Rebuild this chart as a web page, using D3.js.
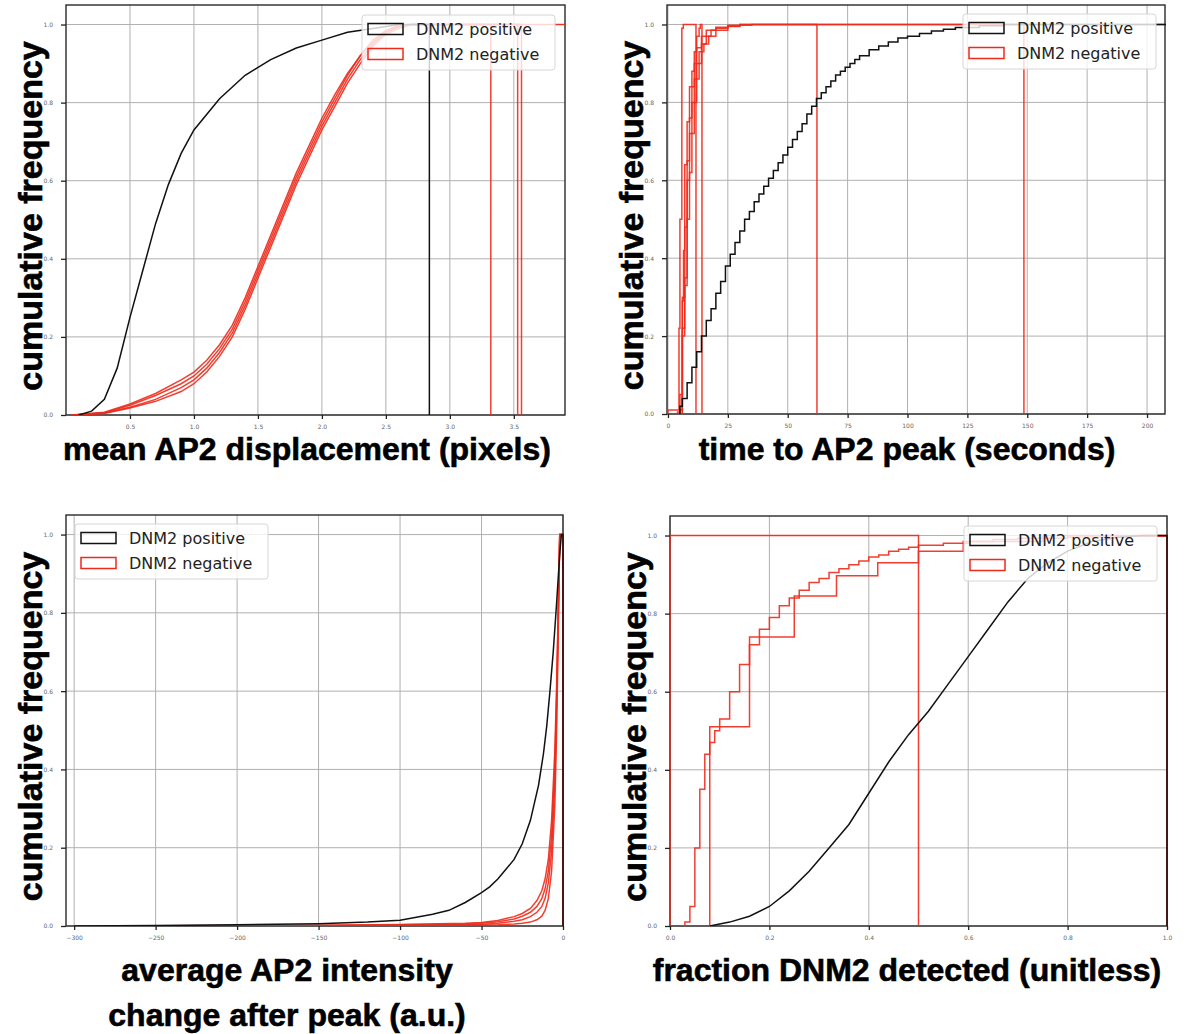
<!DOCTYPE html>
<html>
<head>
<meta charset="utf-8">
<script src="https://cdn.jsdelivr.net/npm/d3@7"></script>
<style>
  body { margin: 0; background: #fff; }
  svg { display: block; }
</style>
</head>
<body>
<svg id="chart" width="1193" height="1034"></svg>
<script>
// ---- panel 1: mean AP2 displacement (pixels) ----
const dispTicks = [0.5, 1.0, 1.5, 2.0, 2.5, 3.0, 3.5];
const dispPosX = [0.10, 0.20, 0.30, 0.40, 0.50, 0.60, 0.70, 0.80, 0.90, 1.00, 1.20, 1.40, 1.60, 1.80, 2.00, 2.20, 2.40, 2.60];
const dispPosY = [0, 0.01, 0.04, 0.12, 0.25, 0.37, 0.49, 0.59, 0.67, 0.73, 0.81, 0.87, 0.91, 0.94, 0.96, 0.98, 0.99, 1.0];
const dispPosEnd = 2.84;
const dispNegX = [0.05, 0.3, 0.5, 0.7, 0.9, 1.0, 1.1, 1.2, 1.3, 1.4, 1.5, 1.6, 1.7, 1.8, 1.9, 2.0, 2.1, 2.2, 2.3, 2.4, 2.5, 2.6, 2.7];
const dispNegA = [0, 0.005, 0.02, 0.04, 0.07, 0.09, 0.12, 0.16, 0.21, 0.28, 0.36, 0.44, 0.52, 0.60, 0.67, 0.74, 0.80, 0.86, 0.91, 0.95, 0.98, 0.995, 1.0];
const dispNegB = [0, 0.006, 0.025, 0.05, 0.08, 0.10, 0.13, 0.17, 0.22, 0.29, 0.37, 0.45, 0.53, 0.61, 0.68, 0.75, 0.81, 0.87, 0.92, 0.955, 0.98, 0.995, 1.0];
const dispNegC = [0, 0.004, 0.018, 0.035, 0.06, 0.08, 0.11, 0.15, 0.20, 0.27, 0.35, 0.43, 0.51, 0.59, 0.66, 0.73, 0.79, 0.85, 0.90, 0.945, 0.975, 0.99, 1.0];
const dispNegD = [0, 0.007, 0.028, 0.055, 0.09, 0.11, 0.14, 0.18, 0.23, 0.30, 0.38, 0.46, 0.54, 0.62, 0.69, 0.76, 0.82, 0.875, 0.92, 0.96, 0.985, 0.998, 1.0];
const dispNegEnds = [3.32, 3.53, 3.56, 3.95];

// ---- panel 2: time to AP2 peak (seconds) ----
const timeTicks = [0, 25, 50, 75, 100, 125, 150, 175, 200];
const timePosX = [5, 6, 8, 10, 12, 14, 16, 18, 20, 22, 24, 26, 28, 30, 32, 34, 36, 38, 40, 42, 44, 46, 48, 50, 52, 54, 56, 58, 60, 62, 64, 66, 68, 70, 72, 74, 76, 78, 80, 84, 88, 92, 96, 100, 105, 110, 115, 120, 130, 140];
const timePosY = [0.02, 0.04, 0.08, 0.12, 0.16, 0.20, 0.24, 0.27, 0.31, 0.34, 0.38, 0.41, 0.44, 0.47, 0.50, 0.52, 0.545, 0.565, 0.585, 0.605, 0.625, 0.645, 0.665, 0.685, 0.705, 0.725, 0.745, 0.77, 0.79, 0.81, 0.825, 0.84, 0.855, 0.87, 0.88, 0.89, 0.90, 0.91, 0.92, 0.935, 0.945, 0.955, 0.965, 0.97, 0.977, 0.983, 0.988, 0.992, 0.997, 1.0];
const timePosEnd = 215;
const timeNegAX = [0, 4.6, 5, 5.8, 6.4];
const timeNegAY = [0.01, 0.22, 0.5, 0.99, 1.0];
const timeNegBX = [5, 6, 6.5, 7, 8, 9, 10, 11, 12, 13, 13.5];
const timeNegBY = [0.01, 0.29, 0.42, 0.64, 0.75, 0.84, 0.88, 0.93, 0.97, 0.99, 1.0];
const timeNegCX = [5, 6, 7, 8, 9, 10, 11, 12, 13, 14, 16, 18, 20, 25, 30];
const timeNegCY = [0, 0.22, 0.35, 0.6, 0.72, 0.8, 0.86, 0.9, 0.93, 0.95, 0.97, 0.985, 0.99, 0.996, 1.0];
const timeNegDX = [5, 6, 7, 8, 9, 10, 11, 12, 13, 14, 15, 17, 20, 25, 30];
const timeNegDY = [0, 0.2, 0.33, 0.5, 0.62, 0.72, 0.8, 0.86, 0.9, 0.93, 0.95, 0.97, 0.985, 0.995, 1.0];
const timeNegEX = [4, 5, 6, 7, 8, 9, 10, 11, 12, 14, 16, 20, 25, 35];
const timeNegEY = [0.005, 0.05, 0.3, 0.48, 0.65, 0.76, 0.84, 0.9, 0.94, 0.97, 0.985, 0.993, 0.998, 1.0];
const timeNegEnds = [11.7, 14.2, 62.2, 148.6, 215];

// ---- panel 3: average AP2 intensity change after peak (a.u.) ----
const intTicks = [-300, -250, -200, -150, -100, -50, 0];
const intPosX = [-300, -250, -200, -150, -120, -100, -80, -70, -60, -50, -45, -40, -35, -30, -25, -20, -15, -12, -10, -8, -6, -4, -2, -1];
const intPosY = [0, 0.001, 0.003, 0.006, 0.01, 0.015, 0.03, 0.04, 0.06, 0.085, 0.10, 0.12, 0.145, 0.17, 0.21, 0.27, 0.36, 0.44, 0.51, 0.60, 0.70, 0.82, 0.95, 1.0];
const intPosEnd = 0;
const intNegX = [-300, -150, -100, -60, -50, -40, -30, -25, -20, -16, -13, -11, -9, -7, -5, -4, -3, -2];
const intNegA = [0, 0.002, 0.004, 0.007, 0.009, 0.014, 0.024, 0.032, 0.045, 0.065, 0.09, 0.12, 0.17, 0.27, 0.45, 0.60, 0.80, 1.0];
const intNegB = [0, 0.001, 0.003, 0.005, 0.007, 0.011, 0.018, 0.025, 0.035, 0.05, 0.07, 0.095, 0.14, 0.23, 0.41, 0.57, 0.78, 1.0];
const intNegC = [0, 0, 0.001, 0.003, 0.004, 0.007, 0.012, 0.016, 0.024, 0.035, 0.05, 0.07, 0.11, 0.19, 0.37, 0.53, 0.76, 1.0];
const intNegD = [0, 0, 0, 0.001, 0.002, 0.003, 0.005, 0.007, 0.01, 0.016, 0.025, 0.04, 0.07, 0.14, 0.31, 0.48, 0.72, 1.0];
const intNegEnds = [0, 0, 0, 0];

// ---- panel 4: fraction DNM2 detected (unitless) ----
const fracTicks = [0.0, 0.2, 0.4, 0.6, 0.8, 1.0];
const fracPosX = [0.08, 0.12, 0.16, 0.20, 0.24, 0.28, 0.32, 0.36, 0.40, 0.44, 0.48, 0.52, 0.56, 0.60, 0.64, 0.68, 0.72, 0.76, 0.80, 0.85, 0.90, 0.95];
const fracPosY = [0, 0.01, 0.025, 0.05, 0.09, 0.14, 0.20, 0.26, 0.34, 0.42, 0.49, 0.55, 0.62, 0.69, 0.76, 0.83, 0.89, 0.93, 0.96, 0.985, 0.995, 1.0];
const fracPosEnd = 1.0;
const fracNegAX = [0];
const fracNegAY = [1.0];
const fracNegBX = [0.08, 0.16, 0.25, 0.335, 0.418, 0.5, 0.59, 0.75];
const fracNegBY = [0.51, 0.74, 0.845, 0.897, 0.93, 0.96, 0.985, 1.0];
const fracNegCX = [0.02, 0.03, 0.04, 0.05, 0.06, 0.07, 0.08, 0.09, 0.10, 0.12, 0.14, 0.16, 0.18, 0.20, 0.22, 0.24, 0.26, 0.28, 0.30, 0.32, 0.34, 0.36, 0.38, 0.40, 0.42, 0.44, 0.46, 0.48, 0.50, 0.55, 0.60, 0.65, 0.70, 0.80, 0.90];
const fracNegCY = [0, 0.01, 0.05, 0.2, 0.35, 0.44, 0.47, 0.5, 0.53, 0.6, 0.67, 0.72, 0.76, 0.79, 0.82, 0.84, 0.86, 0.88, 0.89, 0.905, 0.915, 0.925, 0.935, 0.945, 0.95, 0.96, 0.965, 0.97, 0.975, 0.98, 0.985, 0.99, 0.993, 0.996, 0.998];
const fracNegEnds = [0.5, 1.0, 1.0];

const yTicks = [0.0, 0.2, 0.4, 0.6, 0.8, 1.0];
const legendLabels = ['DNM2 positive', 'DNM2 negative'];
const posColor = '#111';
const negColor = '#ee2a1b';

const zip = (xs, ys) => xs.map((x, i) => [x, ys[i]]);

const panels = [
  {
    box: { left: 66, right: 565, top: 5, bottom: 415 },
    xDomain: [0, 3.9], xTicks: dispTicks, fmt: d3.format('.1f'),
    curve: d3.curveLinear,
    pos: { pts: zip(dispPosX, dispPosY), end: dispPosEnd },
    neg: [dispNegA, dispNegB, dispNegC, dispNegD].map((ys, i) => ({ pts: zip(dispNegX, ys), end: dispNegEnds[i] })),
    xlabel: ['mean AP2 displacement (pixels)'], labelX: 307, labelY: 460,
    legend: { x: 362, y: 15 }
  },
  {
    box: { left: 667, right: 1165, top: 5, bottom: 414 },
    xDomain: [-0.4, 207.5], xTicks: timeTicks, fmt: d3.format('d'),
    curve: d3.curveStepAfter,
    pos: { pts: zip(timePosX, timePosY), end: timePosEnd },
    neg: [
      zip(timeNegAX, timeNegAY), zip(timeNegBX, timeNegBY), zip(timeNegCX, timeNegCY),
      zip(timeNegDX, timeNegDY), zip(timeNegEX, timeNegEY)
    ].map((pts, i) => ({ pts, end: timeNegEnds[i] })),
    xlabel: ['time to AP2 peak (seconds)'], labelX: 907, labelY: 460,
    legend: { x: 963, y: 14 }
  },
  {
    box: { left: 66, right: 563, top: 515, bottom: 926 },
    xDomain: [-305, 0], xTicks: intTicks, fmt: d3.format('d'),
    curve: d3.curveLinear,
    pos: { pts: zip(intPosX, intPosY), end: intPosEnd },
    neg: [intNegA, intNegB, intNegC, intNegD].map((ys, i) => ({ pts: zip(intNegX, ys), end: intNegEnds[i] })),
    xlabel: ['average AP2 intensity', 'change after peak (a.u.)'], labelX: 287, labelY: 981,
    legend: { x: 75, y: 524 }
  },
  {
    box: { left: 670, right: 1167, top: 516, bottom: 926 },
    xDomain: [0, 1], xTicks: fracTicks, fmt: d3.format('.1f'),
    curve: d3.curveStepAfter, posCurve: d3.curveLinear,
    pos: { pts: zip(fracPosX, fracPosY), end: fracPosEnd },
    neg: [
      zip(fracNegAX, fracNegAY), zip(fracNegBX, fracNegBY), zip(fracNegCX, fracNegCY)
    ].map((pts, i) => ({ pts, end: fracNegEnds[i] })),
    xlabel: ['fraction DNM2 detected (unitless)'], labelX: 907, labelY: 981,
    legend: { x: 964, y: 526 }
  }
];

const svg = d3.select('#chart');

panels.forEach((p, pi) => {
  const b = p.box;
  const x = d3.scaleLinear().domain(p.xDomain).range([b.left, b.right]);
  const y = d3.scaleLinear().domain([0, 1.05]).range([b.bottom, b.top]);
  const g = svg.append('g');

  // grid
  g.append('g').selectAll('line').data(p.xTicks).join('line')
    .attr('x1', d => x(d)).attr('x2', d => x(d))
    .attr('y1', b.top).attr('y2', b.bottom)
    .attr('stroke', '#b0b0b0').attr('stroke-width', 1);
  g.append('g').selectAll('line').data(yTicks).join('line')
    .attr('x1', b.left).attr('x2', b.right)
    .attr('y1', d => y(d)).attr('y2', d => y(d))
    .attr('stroke', '#b0b0b0').attr('stroke-width', 1);

  // spines
  g.append('rect').attr('x', b.left).attr('y', b.top)
    .attr('width', b.right - b.left).attr('height', b.bottom - b.top)
    .attr('fill', 'none').attr('stroke', '#2a2a2a').attr('stroke-width', 1.4);

  // curves, clipped to the axes box (1px slack so edge lines stay visible)
  const clipId = 'clip' + pi;
  svg.append('clipPath').attr('id', clipId).append('rect')
    .attr('x', b.left - 1).attr('y', b.top)
    .attr('width', b.right - b.left + 2).attr('height', b.bottom - b.top);
  const plot = g.append('g').attr('clip-path', `url(#${clipId})`);

  const stepPath = (s, curve) => {
    const pts = [[s.pts[0][0], 0], ...s.pts, [s.end, s.pts[s.pts.length - 1][1]], [s.end, 0]];
    return d3.line().x(d => x(d[0])).y(d => y(d[1])).curve(curve)(pts);
  };

  p.neg.forEach(s => {
    plot.append('path').attr('d', stepPath(s, p.curve))
      .attr('fill', 'none').attr('stroke', negColor).attr('stroke-width', 1.5)
      .attr('stroke-opacity', 0.9);
  });
  plot.append('path').attr('d', stepPath(p.pos, p.posCurve || p.curve))
    .attr('fill', 'none').attr('stroke', posColor).attr('stroke-width', 1.5);

  // axes
  const xAxis = g.append('g').attr('transform', `translate(0,${b.bottom})`)
    .call(d3.axisBottom(x).tickValues(p.xTicks).tickFormat(p.fmt).tickSize(4).tickPadding(6));
  const yAxis = g.append('g').attr('transform', `translate(${b.left},0)`)
    .call(d3.axisLeft(y).tickValues(yTicks).tickFormat(d3.format('.1f')).tickSize(5).tickPadding(8));
  [xAxis, yAxis].forEach(a => {
    a.select('.domain').remove();
    a.selectAll('.tick line').attr('stroke', '#222').attr('stroke-width', 1.3);
    a.selectAll('.tick text').attr('fill', '#666')
      .style('font-family', 'DejaVu Sans, sans-serif').style('font-size', '6px');
  });

  // legend
  const lg = g.append('g').attr('transform', `translate(${p.legend.x},${p.legend.y})`);
  lg.append('rect').attr('width', 193).attr('height', 55).attr('rx', 3)
    .attr('fill', '#fff').attr('fill-opacity', 0.8)
    .attr('stroke', '#d6d6d6').attr('stroke-width', 1);
  legendLabels.forEach((label, i) => {
    const cy = 14 + i * 25;
    lg.append('rect').attr('x', 6).attr('y', cy - 5.5).attr('width', 35).attr('height', 11)
      .attr('fill', 'none').attr('stroke', i === 0 ? posColor : negColor).attr('stroke-width', 1.5);
    lg.append('text').attr('x', 54).attr('y', cy + 6).text(label)
      .attr('fill', '#222')
      .style('font-family', 'DejaVu Sans, sans-serif').style('font-size', '16px');
  });

  // axis labels (slight stroke to mimic the heavier bold of the original)
  const xl = g.append('text').attr('text-anchor', 'middle')
    .style('font-family', 'Liberation Sans, Arial, sans-serif')
    .style('font-weight', 'bold').style('font-size', '32px')
    .attr('fill', '#000').attr('stroke', '#000').attr('stroke-width', 0.6);
  p.xlabel.forEach((line, i) => {
    xl.append('tspan').attr('x', p.labelX).attr('y', p.labelY + i * 45).text(line);
  });
  const cyMid = (b.top + b.bottom) / 2 + 6;
  g.append('text').attr('text-anchor', 'middle')
    .attr('transform', `translate(${b.left - 24},${cyMid}) rotate(-90)`)
    .style('font-family', 'Liberation Sans, Arial, sans-serif')
    .style('font-weight', 'bold').style('font-size', '34px')
    .attr('fill', '#000').attr('stroke', '#000').attr('stroke-width', 0.6)
    .text('cumulative frequency');
});
</script>
</body>
</html>
